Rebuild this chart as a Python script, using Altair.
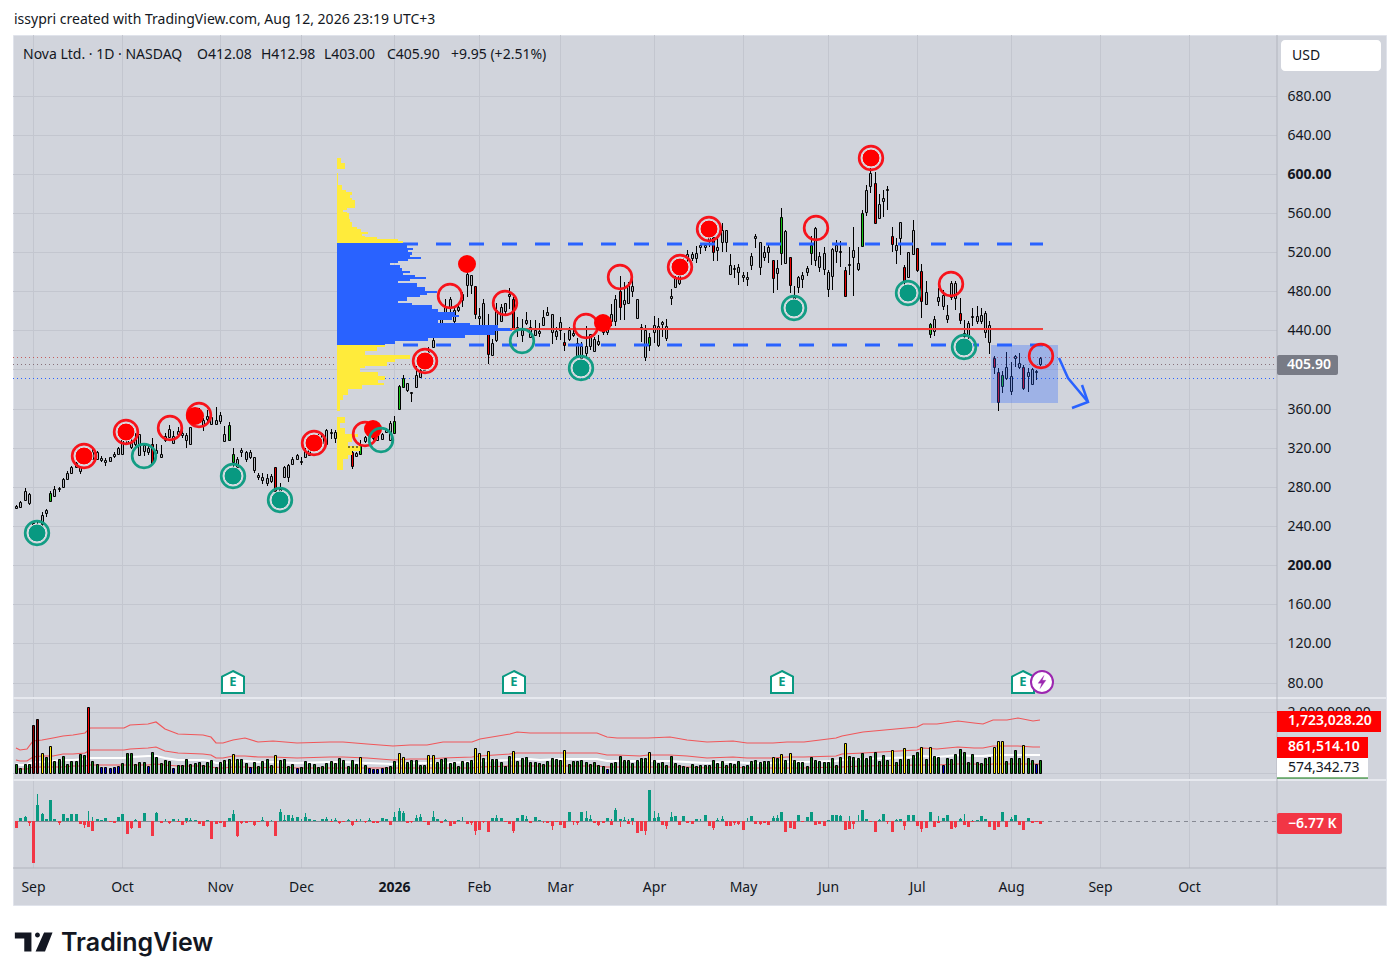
import altair as alt
import pandas as pd

FONT = "Noto Sans"
INK = "#131722"
PANEL = "#d1d4dc"

# ---------- price bars (bar number, then high / body top / body bottom / low) ----------
highs = [261.5,265.5,278.5,274,244,244,254,257,276,281,
280,289,296,301,305.5,301,315,318,320,317,
311.5,309,311,316,321,339,342,332,335.5,334,
324,323.5,330,323.5,323,335.5,343,337,341,339,
335.5,341.5,359,361,350,359,352.5,362,356,342,
346,320,310,320,317,318,310,294.5,294.5,293,
293.5,300.7,284,301,303,310,314,310,320,322,
332,334,335.5,339,339,338,332,328,322,317,
316,327.5,331.5,338,336.5,335,335,340,347,352,
384,394.5,386.5,377,403,403,413,423,433.5,447,
457,471.5,474,464,468,479.5,500,497,485,462.5,
472.5,457,431,467.5,467,468,483,474,454,452,
459,450.5,450.5,447,461,463.5,457,443.5,454,437,
443.5,445.5,432,428.5,444.5,436,433.5,435,444,444,
467,476,495,489.5,489.5,495.5,471.5,446.5,445.5,437,
455,453,449.5,452,482,495.5,501.5,513.5,522,520.5,
526.5,529,529,542.5,536,536,549.5,542.5,518,507,
508,499.5,500,519,538.5,530,526.5,528.5,512,511.5,
565,542.5,515,485,496,500,506,536,545.5,520.5,
525,502,524,532.5,531,505,525.5,545.5,525,563,
588.5,605.5,602,579.5,583.5,587,545.5,534,550.5,507,
520.5,553,524,507.5,490.5,447.5,454.5,483,481.5,466,
490,490,473,451,449,463,464.5,463,459.5,449,
413.5,401.5,398,418,407.5,415,417,405,401.5,401.5,399,412.98]
body_tops = [260.5,264,276,273,243,242.5,251,256,274,277.5,
279,288,294,300,304,300,310,315,315.5,316,
309,307,310,314,320,337,337,325,328.6,334,
322.5,320,323.5,318,314,332,339.5,332,337,335.5,
332.5,341,356,357.5,348,352,351,348,353,334.5,
343,314,308,317.5,316,316,310,292,290.5,288.7,
291,300,278,300,302,308,313,306,316.7,319,
327,330,334,338,336,336.5,330,326,321,316,
315,323,331,336.5,335,333,334,338,345,347.5,
383,391,386.5,376.5,394.5,399.5,409,418,430,444,
454,464,472,461,464,477,498,497,485,454.5,
467.5,437,427,461,463.5,467.5,477,472.5,443.5,440.5,
451,443.5,440.5,439.5,454,459,457,439,448,428,
440,437.5,427,423.5,423.5,436,431,429,444,442,
457,471.5,480.5,471,486,485,471.5,443,440.5,433.5,
445,444,448,444,475,494,496.5,508,518.5,517.5,
519,527.5,527.5,536,535,525,542.5,542.5,506.5,504,
505,497,494.5,516,536,530,520.5,525.5,512,503.5,
555.5,541,515,474.5,494.5,497,503.5,527,544.5,516,
519.5,500,523,527.5,521,501.5,508,522,508.5,559.5,
583.5,600.5,590.5,569,575,584,536,527,550.5,505,
520,542.5,524,500.5,479,446.5,451.5,474,476.5,455.5,
488.5,488.5,457.5,437,447.5,455,455,455.5,457.5,445.5,
412,397.5,394.5,402,393.5,414,406.5,402,397,400.5,398,412.08]
body_bottoms = [258.5,259,267,263,236,236.5,241.5,253,265.5,270.5,
278,280,288,294.5,300.5,296,305,310,308,308,
307.5,305,306,311.5,314,314,325,321,323.5,312.5,
316.5,315.5,304,315,310,327.5,331,325,334,333,
328,324,351,352.5,343,349,344,344.5,347.5,327,
328,305.5,300.5,315.5,308,310,297,290.5,287,283.6,
286,276,276,290,290,303,308,305,310.5,313,
322,325,325,323.5,335,330,326,322,320,301,
312,313.5,326.5,331.5,330,328,329,336,327.5,335.5,
359.5,382.5,378.5,375.5,382.5,392,399.5,410,423,433.5,
447,455.5,462.5,449,461,471,486,486,457,453,
445.5,415.5,415,430,449,460,475.5,442,442,435,
447,433.5,435,437.5,445,455.5,438.5,434.5,440,424.5,
431,435.5,413,411.5,416.5,423.5,419,426,438.5,438.5,
449,450,464,467,467.5,480,453,441.5,413,424.5,
438,424.5,446.5,432,473.5,484.5,488,499.5,514.5,513.5,
513.5,525,525.5,531,520.5,522.5,530,530,498,502.5,
500,494,492.5,507,534.5,504.5,514.5,520,493,499,
519,508.5,486,471,484,492.5,500,519.5,511.5,505,
502.5,482,496,521.5,520,475.5,506.5,515,502.5,526.5,
560.5,587,550,554.5,572.5,583,528,522,534,490,
494.5,518,502,469.5,466.5,436,439,469.5,464.5,452,
474.5,473,451,434,434,453.5,449,450,438,428.5,
402,366.5,383.5,391,378,412,402,381,393,385,397,405.9]
lows = [258,258,266.5,261,234,233,240,249.5,265,270,
275,279.5,287,294,299,293,303,308,307.5,307.5,
305.5,301,305,309.5,313,313,323.5,319,322,311.5,
311.5,313,303,313,309,326,329.5,324.5,332,330,
320,323.5,347,349,337,344,343,344,344,327,
327,300,298,310,305,308,294,287,282.5,281,
284,274,273,289.5,285,302,307.5,302,310,311.5,
320,323.5,323.5,322.5,328.6,325,324,320,319,298.5,
311,313,325,330,328,327.5,328,335,326.5,335,
359,382,376.5,367,381,392,398,406,421.5,432,
444,455.5,454,447,459,464,474,477,452,444,
444,406,414,428.5,448,457,461.5,441,433.5,428.5,
445.5,432,434,433.5,444,454.5,426.5,430,430,419,
429.5,433.5,411.5,406,411.5,420,418,423.5,435,435,
444,444,450.5,450.5,467,474,453,428.5,409,419,
427,422.5,433.5,429.5,466,484.5,486,498,510,510.5,
508.5,518,521,525.5,510.5,510.5,520.5,520.5,497,493,
486,489,485,502,524,497,510.5,509,478,481,
507,508,478,463,478,483,495,507,506,500,
497,474.5,481.5,508.5,504.5,475,497,475,501,526.5,
556.5,580,550,553.5,555.5,562.5,520.5,508,517,486.5,
493.5,517,500,453,465.5,432,434,464.5,461,447.5,
471,460.5,446,427,423.5,444,446,446,432,416,
395,357.5,376,389,374,402.5,400,379,377,384.5,389.5,403]
green_bars = [8,50,51,81,89,90,91,149,180,187,199,215,232]
red_bars = [32,61,79,108,111,117,129,142,164,178,182,195,202,206,209,212,213,222,230,231,237]

# ---------- volume (thousands) ----------
volume_k = [275,143,275,275,1573,1771,638,517,869,385,
451,550,286,385,385,616,583,2156,385,275,
187,187,154,187,220,308,638,638,286,352,
352,220,671,517,308,418,385,154,253,253,
451,275,319,352,253,352,418,187,352,418,
451,605,451,451,319,187,352,220,385,451,
253,572,418,451,220,286,154,187,385,319,
286,187,220,319,385,319,484,418,220,418,
286,517,253,154,121,121,154,187,220,385,
638,517,352,418,418,253,253,572,572,352,
451,484,319,352,220,385,352,418,803,638,
484,704,451,451,352,220,550,704,385,484,
517,352,352,319,286,385,484,451,418,737,
286,385,385,418,352,286,352,253,220,121,
319,352,550,418,418,319,418,484,484,671,
418,319,352,253,550,308,253,220,187,286,
220,253,253,253,418,319,385,253,319,286,
385,220,253,385,418,352,385,385,517,484,
616,418,649,418,352,352,220,517,418,385,
352,352,484,253,517,968,550,517,484,649,
484,550,682,385,583,418,737,352,451,803,
451,583,682,836,451,836,550,517,253,484,
451,616,781,682,352,616,352,319,484,517,
836,1034,1034,385,484,748,484,913,484,418,286,418]
maroon_vol = [4,5]
red_vol = [17]
yellow_vol = [6,8,51,61,81,90,91,97,98,108,109,111,117,129,149,178,180,182,195,206,209,213,215,230,231,232,237]
blue_vol = [20,21,22,23,24,31,37,55,66,83,84,85,86,139,218,240]

ma_bar = [0,1,2.5,4,6,8.8,11,13.5,16.2,17.4,25.3,26.8,31.1,32.9,35,38.2,44,46,47,48.8,
51.1,53.9,57,60.5,66,73.9,77,82.5,88.8,92.7,96.6,100.5,107.2,109.2,116.2,117.8,120.9,123.3,128,136.6,
139,141.3,146.8,148.8,153.9,157.8,162.5,168.8,171.9,178.2,181.3,185.3,193,194.3,199.4,212,213.5,216.6,221.7,225.3,
227.6,229.9,233.1,235.8,239.4,241]
ma_upper = [825,748,770,1045,1078,1133,1221,1243,1320,1485,1485,1573,1606,1672,1430,1276,1243,1188,968,968,
1078,1133,1023,1056,990,1012,1023,946,869,913,913,1001,1023,1122,1265,1331,1320,1298,1320,1320,
1188,1155,1133,1155,1166,1078,1001,1034,990,968,1023,1023,1133,1221,1331,1518,1606,1595,1716,1628,
1617,1738,1749,1793,1716,1723]
ma_middle = [412,374,385,522,539,566,610,621,660,742,742,786,803,836,715,638,621,594,484,484,
539,566,511,528,495,506,511,473,434,456,456,500,511,561,632,665,660,649,660,660,
594,577,566,577,583,539,500,517,495,484,511,511,566,610,665,759,803,797,858,814,
808,869,874,896,858,861.5]
ma_white = [275,249,257,348,359,378,407,414,440,495,495,524,535,557,477,425,414,396,323,323,
359,378,341,352,330,337,341,315,290,304,304,334,341,374,422,444,440,433,440,440,
396,385,378,385,389,359,334,345,330,323,341,341,378,407,444,506,535,532,572,543,
539,579,583,598,572,574]
ma_lower = [137,125,128,174,180,189,203,207,220,247,247,262,268,279,238,213,207,198,161,161,
180,189,170,176,165,169,170,158,145,152,152,167,170,187,211,222,220,216,220,220,
198,192,189,192,194,180,167,172,165,161,170,170,189,203,222,253,268,266,286,271,
269,290,292,299,286,287]

# ---------- delta histogram (K) ----------
delta_k = [-20,10,12,-5,-124,50,23,8,64,8,
-6,22,10,22,22,-8,-12,-18,-28,8,
4,10,-3,-4,14,22,-38,-20,5,-20,
25,2,-43,25,-4,2,-6,8,-2,-12,
10,4,3,-8,-14,4,-52,-8,-6,-16,
10,22,-43,-6,-6,-3,-10,-3,5,-14,
2,-45,28,3,20,10,14,2,14,8,
4,2,8,8,-2,5,-4,-2,3,-12,
-3,2,-3,5,-6,-6,10,8,-12,14,
30,24,-6,-3,10,14,-2,-10,12,8,
-6,4,-14,-8,4,1,-8,-5,-28,-25,
-2,-33,10,10,10,-2,-9,-28,10,20,
6,-6,14,3,2,-6,-14,-3,-10,-20,
28,-2,-5,28,10,8,-4,-10,-4,10,
-10,35,6,3,-8,10,-36,-30,-28,94,
10,12,-10,-15,14,15,-10,17,-4,-8,
6,1,18,-14,-20,4,6,-14,-13,-5,
-8,-25,2,15,-8,-8,-5,-12,10,10,
28,-33,-20,-22,20,-3,12,28,-10,-8,
-15,5,20,18,15,-25,-22,-8,2,35,
8,-2,-33,3,22,-2,-33,4,8,-14,
18,20,-15,-22,-20,28,-16,-5,10,20,
-22,-18,6,-10,-16,-3,3,15,6,-17,
-25,-17,28,-16,8,18,-10,-25,10,-6,-1,-6.77]
spike_bar = [2,3,5,6,10,16,17,18,27,28,33,35,36,38,40,41,51,52,53,56,58,59,60,62,63,65,67,68,73,74,75,76,78,79,80,81,82,83,89,90,91,93,94,95,98,101,105,107,108,110,113,117,120,124,126,131,132,134,135,137,140,141,142,143,144,145,148,150,151,153,154,161,164,165,166,169,170,172,175,178,179,182,194,196,197,198,203,205,207,208,209,213,217,221,222,223,225,234]
spike_k = [15,-15,82,25,-10,-20,30,12,-22,8,28,8,-9,7,-6,10,35,-46,-8,-13,12,-16,5,38,20,20,8,25,12,8,10,-7,8,-14,8,8,-6,10,28,40,32,-6,20,22,30,8,12,-10,-40,-6,20,-35,15,-5,-27,-12,-12,30,20,-13,8,40,-18,12,6,-12,-40,30,25,-22,28,6,-27,10,15,-10,-12,10,-10,15,20,-15,20,15,-24,18,8,-8,8,-2,-25,-33,15,-20,10,22,5,12]

# ---------- volume profile (row top, row bottom, relative length) ----------
vp_yellow_top = [616.1,611.3,600.4,588.2,583.4,581.3,577.9,575.2,573.1,565,562.9,560.9,559.5,553.4,550.6,545.9,543.1,540.4,538.4,536.3,535,532.9,531.5,
424.5,422.5,419.1,415,410.9,407.5,404,401.4,397.3,393.2,389.1,385.7,383.6,380.2,374.1,368.6,
350.9,344.8,340,334.5,331.1,326,321.6,316.8,312.4,308,303.8]
vp_yellow_bot = [611.3,604.5,588.2,583.4,581.3,577.9,575.2,573.1,565,562.9,560.9,559.5,553.4,550.6,545.9,543.1,540.4,538.4,536.3,535,532.9,531.5,529.2,
422.5,419.1,415,410.9,407.5,404,401.4,397.3,393.2,389.1,385.7,383.6,380.2,374.1,368.6,357.7,
344.8,340,334.5,331.1,326,321.6,316.8,312.4,308,303.8,297.7]
vp_yellow_len = [4,8,1.3,5,9,15,13,15,18,10,6,10,12,13,15,20,24,31,25,28,40,61,66,
48,40,28,73,58,50,28,23,41,48,41,47,25,11,6,3,
8,3,8,21,15,11,23,15,11,6,6]
vp_blue_top = [529.2,526.8,524,522,520,517.3,515.2,513.2,510.4,508.4,506.3,503.6,500.2,498.2,496.1,494,492,490,488,484.5,480.4,477.7,475.6,473.6,470.2,468.1,465.4,462,458.6,455.2,453.1,450.4,447,445,442.2,438.8,435.4,432,428.6,425.9]
vp_blue_bot = [526.8,524,522,520,517.3,515.2,513.2,510.4,508.4,506.3,503.6,500.2,498.2,496.1,494,492,490,488,484.5,480.4,477.7,475.6,473.6,470.2,468.1,465.4,462,458.6,455.2,453.1,450.4,447,445,442.2,438.8,435.4,432,428.6,425.9,424.5]
vp_blue_len = [66,70,76,71,75,73,84,71,61,53,63,65,73,66,78,89,73,61,80,88,100,90,83,70,61,75,95,101,118,122,115,101,133,161,175,158,128,91,58,48]

# ---------- annotations ----------
red_pair_bar = [16,25.9,70.1,96.2,156.2,163,201.2]
red_pair_price = [311.4,336,324.7,408.5,504.6,543.5,616]
red_ring_bar = [36.2,43,82.1,102.1,115,134.1,142.1,188.2,220,241.2]
red_ring_price = [340,353.3,334,475,467.8,444.3,494.4,544.5,487.3,413.6]
red_dot_bar = [42.1,84,106.1,138.1]
red_dot_price = [352.3,339,507.7,447.4]
green_pair_bar = [4.9,51,62.1,133,183,209.9,223]
green_pair_price = [232.7,291,266.4,401.4,462.7,478,423]
green_ring_bar = [30,85.9,119]
green_ring_price = [311.4,327.7,429]
earnings_bar = [51,117.2,180.2,237]
earnings_price = [80.5,80.5,80.5,80.5]
arrow_bar = [245.4,247.5,252.2]
arrow_price = [411.6,391,366.6]
arrow_head_bar = [250.8,252.2,248.5]
arrow_head_price = [384,366.6,360.5]
price_ticks = list(range(80, 681, 40))
price_labels = [80,120,160,200,240,280,320,360,440,480,520,560,600,640,680]
month_bar = [4,25,48,67,89,109,128,150,171,191,212,234,255,276]
month_name = ["Sep","Oct","Nov","Dec","2026","Feb","Mar","Apr","May","Jun","Jul","Aug","Sep","Oct"]

# ---------- frames and scales ----------
n = len(highs)
def kind(i):
    return "g" if i in green_bars else "r" if i in red_bars else "n"
bars = pd.DataFrame({"bar": range(n), "high": highs, "top": body_tops, "bot": body_bottoms, "low": lows,
                     "kind": [kind(i) for i in range(n)]})
def vkind(i):
    if i in maroon_vol: return "m"
    if i in red_vol: return "r"
    if i in yellow_vol: return "y"
    if i in blue_vol: return "b"
    return "g"
vol = pd.DataFrame({"bar": range(n), "v": [v * 1000 for v in volume_k], "kind": [vkind(i) for i in range(n)]})
delta = pd.DataFrame({"bar": range(n), "d": delta_k})
spikes = pd.DataFrame({"bar": spike_bar, "d": spike_k})
ma = pd.DataFrame({"bar": ma_bar, "up": [v * 1000 for v in ma_upper], "mid": [v * 1000 for v in ma_middle],
                   "white": [v * 1000 for v in ma_white], "low": [v * 1000 for v in ma_lower]})

XS = alt.Scale(domain=[0, 300], range=[3, 1278], padding=0, round=True)
PS = alt.Scale(domain=[80, 680], range=[647.5, 60.5], padding=0, round=True)
VS = alt.Scale(domain=[0, 2000000], range=[737.7, 677], padding=0, round=True)
DS = alt.Scale(domain=[-100, 100], range=[819.6, 753], padding=0, round=True)
LS = alt.Scale(domain=[0, 173], range=[324, 497], padding=0, round=True)

X = lambda f="bar": alt.X(f"{f}:Q", scale=XS, axis=None)
P = lambda f: alt.Y(f"{f}:Q", scale=PS, axis=None)
P2 = lambda f: alt.Y2(f"{f}:Q")
one = pd.DataFrame({"k": [0]})
AX_W = 1264
RIGHT = 1373

def txt(s, x, y, size=14, color=INK, weight="normal", align="left", font=FONT):
    return alt.Chart(one).mark_text(text=s, align=align, baseline="middle", font=font, fontSize=size,
                                    color=color, fontWeight=weight).encode(x=alt.value(x - 13), y=alt.value(y - 35))
def box(x0, x1, y0, y1, fill, radius=0):
    return alt.Chart(one).mark_rect(fill=fill, cornerRadius=radius).encode(
        x=alt.value(x0 - 13), x2=alt.value(x1 - 13), y=alt.value(y0 - 35), y2=alt.value(y1 - 35))
def line_px(x0, x1, y0, y1, color, w=1):
    return alt.Chart(one).mark_rule(color=color, strokeWidth=w).encode(
        x=alt.value(x0 - 13), x2=alt.value(x1 - 13), y=alt.value(y0 - 35), y2=alt.value(y1 - 35))
def candles(df):
    out = [alt.Chart(df).mark_rule(color="#000000", strokeWidth=1, xOffset=0.5).encode(x=X(), y=P("low"), y2=P2("high"))]
    for k, fill in (("n", "#b4b7bf"), ("g", "#17c317"), ("r", "#e60000")):
        out.append(alt.Chart(df[df.kind == k]).mark_bar(size=2, orient="vertical", fill=fill, stroke="#000000", strokeWidth=1,
                                                        xOffset=0.5, yOffset=0.5, y2Offset=0.5)
                   .encode(x=X(), y=P("bot"), y2=P2("top")))
    return out
def rings(bx, py, color):
    d = pd.DataFrame({"bar": bx, "p": py})
    return alt.Chart(d).mark_point(filled=False, size=560, color=color, strokeWidth=2.7, opacity=1).encode(x=X(), y=P("p"))
def dots(bx, py, color, halo=False):
    d = pd.DataFrame({"bar": bx, "p": py})
    kw = {"stroke": "#e4e5ea", "strokeWidth": 1} if halo else {}
    return alt.Chart(d).mark_circle(size=324, color=color, opacity=1, **kw).encode(x=X(), y=P("p"))

layers = []
# gridlines with the real axes
layers.append(alt.Chart(pd.DataFrame({"p": price_ticks})).mark_rule(color="#c3c6cf", strokeWidth=1, yOffset=0.5).encode(
    x=alt.value(0), x2=alt.value(AX_W),
    y=alt.Y("p:Q", scale=PS, axis=alt.Axis(orient="right", offset=AX_W - RIGHT, values=price_labels, format=".2f", title=None,
        grid=False, domain=False, ticks=False, tickSize=0, labelPadding=10, labelFont=FONT, labelFontSize=14, labelColor=INK,
        labelFlush=False, labelOverlap=False, labelAlign="left",
        labelFontWeight={"condition": {"test": "datum.value==600||datum.value==200", "value": "bold"}, "value": "normal"}))))
labels_js = "{" + ",".join(f"'{b}':'{m}'" for b, m in zip(month_bar, month_name)) + "}[datum.value]"
layers.append(alt.Chart(pd.DataFrame({"bar": month_bar})).mark_rule(color="#c3c6cf", strokeWidth=1, xOffset=0.5).encode(
    y=alt.value(0), y2=alt.value(833),
    x=alt.X("bar:Q", scale=XS, axis=alt.Axis(orient="bottom", offset=833 - 870, values=month_bar, labelExpr=labels_js, title=None,
        grid=False, domain=False, ticks=False, tickSize=0, labelPadding=12, labelFont=FONT, labelFontSize=14, labelColor=INK,
        labelFlush=False, labelOverlap=False,
        labelFontWeight={"condition": {"test": "datum.value==89", "value": "bold"}, "value": "normal"}))))
layers.append(alt.Chart(pd.DataFrame({"v": [0, 2000000]})).mark_rule(color="#c3c6cf", strokeWidth=1, yOffset=0.5).encode(
    x=alt.value(0), x2=alt.value(AX_W),
    y=alt.Y("v:Q", scale=VS, axis=alt.Axis(orient="right", offset=AX_W - RIGHT, values=[2000000], format=",.2f", title=None,
        grid=False, domain=False, ticks=False, tickSize=0, labelPadding=10, labelFont=FONT, labelFontSize=14, labelColor=INK,
        labelFlush=False, labelOverlap=False, labelAlign="left"))))
# dotted session levels
for price, color in ((412.5, "#c45a5a"), (405.3, "#86707a"), (391, "#2962ff")):
    layers.append(alt.Chart(pd.DataFrame({"p": [price]})).mark_rule(color=color, strokeWidth=1, strokeDash=[1, 3], yOffset=0.5).encode(
        x=alt.value(0), x2=alt.value(AX_W), y=P("p")))
layers += candles(bars)
# volume profile
yellow = pd.DataFrame({"a": vp_yellow_top, "b": vp_yellow_bot, "l": vp_yellow_len, "z": [0] * len(vp_yellow_len)})
blue = pd.DataFrame({"a": vp_blue_top, "b": vp_blue_bot, "l": vp_blue_len, "z": [0] * len(vp_blue_len)})
for d, c in ((yellow, "#ffeb3b"), (blue, "#2962ff")):
    layers.append(alt.Chart(d).mark_rect(fill=c).encode(
        x=alt.X("z:Q", scale=LS, axis=None), x2=alt.X2("l:Q"), y=P("a"), y2=P2("b")))
layers.append(alt.Chart(pd.DataFrame({"x0": [78.1], "x1": [81], "p": [321]})).mark_rule(color="#000000", strokeWidth=1, strokeDash=[2, 2]).encode(
    x=X("x0"), x2=alt.X2("x1:Q"), y=P("p")))
# levels
levels = pd.DataFrame({"x0": [91.06, 91.06], "x1": [241.6, 241.6], "p": [528.7, 424.7]})
layers.append(alt.Chart(levels).mark_rule(color="#2962ff", strokeWidth=3, strokeDash=[15, 18]).encode(
    x=X("x0"), x2=alt.X2("x1:Q"), y=P("p")))
layers.append(alt.Chart(pd.DataFrame({"x0": [116.2], "x1": [241.6], "p": [441.4]})).mark_rule(color="#f23f3c", strokeWidth=2).encode(
    x=X("x0"), x2=alt.X2("x1:Q"), y=P("p")))
# target box and arrow
layers.append(alt.Chart(pd.DataFrame({"x0": [229.4], "x1": [245.2], "a": [424.9], "b": [365.6]})).mark_rect(fill="#2962ff", opacity=0.3).encode(
    x=X("x0"), x2=alt.X2("x1:Q"), y=P("a"), y2=P2("b")))
for bx, py in ((arrow_bar, arrow_price), (arrow_head_bar, arrow_head_price)):
    d = pd.DataFrame({"bar": bx, "p": py, "o": range(len(bx))})
    layers.append(alt.Chart(d).mark_line(color="#2962ff", strokeWidth=2.5).encode(x=X(), y=P("p"), order="o:Q"))
# markers
layers += [dots(red_pair_bar, red_pair_price, "#ff0000", True), rings(red_pair_bar, red_pair_price, "#f7131b"),
           rings(red_ring_bar, red_ring_price, "#f7131b"), dots(red_dot_bar, red_dot_price, "#ff0000"),
           dots(green_pair_bar, green_pair_price, "#089981", True), rings(green_pair_bar, green_pair_price, "#139d84"),
           rings(green_ring_bar, green_ring_price, "#139d84")]
# earnings and dividend flags
earn = pd.DataFrame({"bar": earnings_bar, "p": earnings_price})
layers.append(alt.Chart(earn).mark_point(shape="M0,-1 L1,-0.5 L1,1 L-1,1 L-1,-0.5 Z", size=484, filled=True, fill="#ffffff",
                                         stroke="#089981", strokeWidth=2, opacity=1).encode(x=X(), y=P("p")))
layers.append(alt.Chart(earn).mark_text(text="E", font=FONT, fontSize=13, fontWeight="bold", color="#089981").encode(x=X(), y=P("p")))
spark = pd.DataFrame({"bar": [241.4], "p": [80.5]})
layers.append(alt.Chart(spark).mark_point(size=484, filled=True, fill="#ffffff", stroke="#9c27b0", strokeWidth=2, opacity=1).encode(x=X(), y=P("p")))
layers.append(alt.Chart(spark).mark_point(shape="M0.3,-1 L-0.6,0.2 L-0.05,0.2 L-0.3,1 L0.6,-0.25 L0.05,-0.25 Z", size=170, filled=True,
                                          fill="#9c27b0", stroke="#9c27b0", strokeWidth=0.3, opacity=1).encode(x=X(), y=P("p")))
# volume panel
for f, c, w in (("white", "#ffffff", 2), ("up", "#f0575a", 1.2), ("mid", "#f0575a", 1.2), ("low", "#f0575a", 1.2)):
    layers.append(alt.Chart(ma).mark_line(color=c, strokeWidth=w).encode(x=X(), y=alt.Y(f"{f}:Q", scale=VS, axis=None)))
V = alt.Y("v:Q", scale=VS, axis=None)
for k, fill in (("g", "#0a760a"), ("m", "#8b0000"), ("r", "#ff0000"), ("y", "#ffeb00"), ("b", "#0000d0")):
    layers.append(alt.Chart(vol[vol.kind == k]).mark_bar(size=2, orient="vertical", fill=fill, stroke="#000000", strokeWidth=1,
                                                         xOffset=0.5, yOffset=0.5).encode(x=X(), y=V))
# delta panel
D = alt.Y("d:Q", scale=DS, axis=None)
layers.append(alt.Chart(pd.DataFrame({"a": [0], "b": [241], "d": [0]})).mark_rule(color="#868993", strokeWidth=1, yOffset=0.5).encode(
    x=X("a"), x2=alt.X2("b:Q"), y=D))
layers.append(alt.Chart(pd.DataFrame({"a": [241], "d": [0]})).mark_rule(color="#868993", strokeWidth=1, strokeDash=[4, 4], yOffset=0.5).encode(
    x=X("a"), x2=alt.value(AX_W), y=D))
for df, size in ((spikes, 1), (delta, 3)):
    for keep, fill in ((df.d > 0, "#089981"), (df.d < 0, "#f23645")):
        layers.append(alt.Chart(df[keep]).mark_bar(size=size, orient="vertical", fill=fill, xOffset=0.5).encode(x=X(), y=D))
# panel frame lines
layers += [line_px(13, 1386, 698, 698, "#e6e8ee", 2), line_px(13, 1386, 780, 780, "#e6e8ee", 2),
           line_px(13, 1386, 868, 868, "#b2b5be", 1), line_px(1277, 1277, 35, 905, "#b2b5be", 1)]
# price-scale badges
layers += [box(1281, 1381, 40, 71, "#ffffff", 4), txt("USD", 1292, 56),
           box(1277, 1338, 355, 375, "#787b86", 2), txt("405.90", 1287, 365, color="#ffffff", weight=600),
           box(1277, 1381, 711, 732, "#ff0000"), txt("1,723,028.20", 1288, 721, color="#ffffff", weight=600),
           box(1277, 1368, 737, 758, "#ff0000"), txt("861,514.10", 1288, 747, color="#ffffff", weight=600),
           box(1277, 1368, 758, 778, "#ffffff"), txt("574,342.73", 1288, 768),
           line_px(1277, 1368, 778, 778, "#0a760a", 1),
           box(1277, 1342, 813, 834, "#f23645", 2), txt("\u22126.77 K", 1288, 824, color="#ffffff", weight=600)]
# header
for s, x in (("Nova Ltd. \u00b7 1D \u00b7 NASDAQ", 23), ("O412.08", 197), ("H412.98", 261), ("L403.00", 324),
             ("C405.90", 387), ("+9.95 (+2.51%)", 451)):
    layers.append(txt(s, x, 55))
layers.append(txt("issypri created with TradingView.com, Aug 12, 2026 23:19 UTC+3", 14, 20))
# logo
logo = ("M-1,-0.5 L-0.12,-0.5 L-0.12,0.5 L-0.5,0.5 L-0.5,-0.18 L-1,-0.18 Z "
        "M0.07,-0.37 a0.13,0.13 0 1,0 0.26,0 a0.13,0.13 0 1,0 -0.26,0 Z "
        "M0.55,-0.5 L1,-0.5 L0.6,0.5 L0.1,0.5 Z")
layers.append(alt.Chart(one).mark_point(shape=logo, size=1421, filled=True, fill="#131722", opacity=1).encode(
    x=alt.value(33.7 - 13), y=alt.value(942 - 35)))
layers.append(txt("TradingView", 61, 943, size=25, weight=600, font="Inter"))

chart = alt.layer(*layers).resolve_scale(x="independent", y="independent").properties(
    width=1373, height=870,
    padding={"left": 5, "top": 27, "right": 5, "bottom": 60},
    autosize=alt.AutoSizeParams(type="none"),
    background="#ffffff",
).configure_view(fill=PANEL, stroke="#e0e3eb")

chart.save("out.html", embed_options={"renderer": "svg", "actions": False})
